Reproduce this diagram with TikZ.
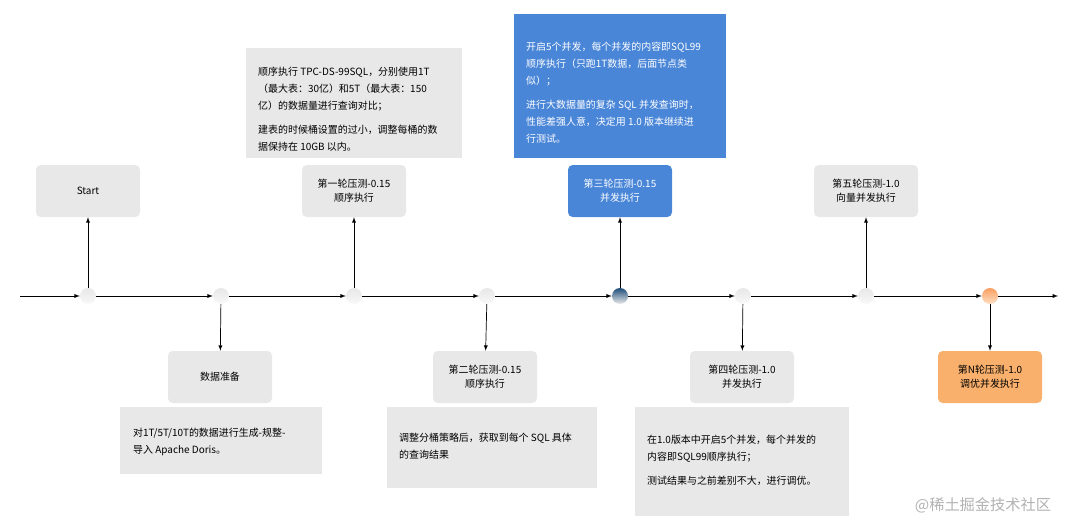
\documentclass[tikz,border=0pt]{standalone}
\usepackage{fontspec}
\setmainfont{Noto Sans CJK SC}
\definecolor{boxgray}{HTML}{E8E8E8}
\definecolor{boxblue}{HTML}{4A86D8}
\definecolor{boxorange}{HTML}{F9B06C}
\definecolor{dotblue}{HTML}{1F4E7A}
\begin{document}
\begin{tikzpicture}[x=0.03cm, y=-0.03cm,
    stage/.style={rounded corners=4pt, fill=boxgray, minimum width=104*0.03cm,
      minimum height=52*0.03cm, align=center, font=\fontsize{8.5}{12}\selectfont},
    info/.style={anchor=north west, align=left, inner sep=0pt,
      font=\fontsize{8.5}{14.5}\selectfont},
    dot/.style={circle, minimum size=16*0.03cm, inner sep=0pt},
    >=latex]
  \useasboundingbox (0,0) rectangle (1080,531);
  % timeline dots
  \foreach \x/\n in {88/d0,221/d1,354/d2,487/d3,743/d5,866/d6}
    \node [dot, top color=gray!18, bottom color=gray!5] (\n) at (\x,296) {};
  \node [dot, top color=dotblue, bottom color=white!85!gray] (d4) at (620,296) {};
  \node [dot, top color=boxorange!90!red, bottom color=boxorange!40] (d7) at (990,296) {};
  \coordinate (s) at (20,296);
  \coordinate (e) at (1058,296);
  \begin{scope}[->, semithick]
    \draw (s) -- (d0); \draw (d0) -- (d1); \draw (d1) -- (d2); \draw (d2) -- (d3);
    \draw (d3) -- (d4); \draw (d4) -- (d5); \draw (d5) -- (d6); \draw (d6) -- (d7);
    \draw (d7) -- (e);
  \end{scope}
  % info panels
  \fill [boxgray] (246,48) rectangle (462,158);
  \node [info] (i1) at (258,67) {顺序执行 TPC-DS-99SQL，分别使用1T\\（最大表：30亿）和5T（最大表：150\\亿）的数据量进行查询对比；\\[6pt]建表的时候桶设置的过小，调整每桶的数\\据保持在 10GB 以内。};
  \fill [boxblue] (514,14) rectangle (726,158);
  \node [info, text=white] (i3) at (526,42) {开启5个并发，每个并发的内容即SQL99\\顺序执行（只跑1T数据，后面节点类\\似）；\\[6pt]进行大数据量的复杂 SQL 并发查询时，\\性能差强人意，决定用 1.0 版本继续进\\行测试。};
  \fill [boxgray] (120,407) rectangle (322,474);
  \node [info] (i0) at (133,428) {对1T/5T/10T的数据进行生成-规整-\\导入 Apache Doris。};
  \fill [boxgray] (387,407) rectangle (597,488);
  \node [info] (i2) at (399,433) {调整分桶策略后，获取到每个 SQL 具体\\的查询结果};
  \fill [boxgray] (635,407) rectangle (849,516);
  \node [info] (i4) at (647,435) {在1.0版本中开启5个并发，每个并发的\\内容即SQL99顺序执行；\\[6pt]测试结果与之前差别不大，进行调优。};
  % stage boxes
  \node [stage] (start) at (88,191) {Start};
  \node [stage] (r1) at (354,191) {第一轮压测-0.15\\顺序执行};
  \node [stage, fill=boxblue, text=white] (r3) at (620,191) {第三轮压测-0.15\\并发执行};
  \node [stage] (r5) at (866,191) {第五轮压测-1.0\\向量并发执行};
  \node [stage] (prep) at (220,377) {数据准备};
  \node [stage] (r2) at (485,377) {第二轮压测-0.15\\顺序执行};
  \node [stage] (r4) at (742,377) {第四轮压测-1.0\\并发执行};
  \node [stage, fill=boxorange] (rn) at (990,377) {第N轮压测-1.0\\调优并发执行};
  \begin{scope}[->, semithick]
    \draw (d0) -- (start); \draw (d2) -- (r1); \draw (d4) -- (r3); \draw (d6) -- (r5);
    \draw (d1) -- (prep); \draw (d3) -- (r2); \draw (d5) -- (r4); \draw (d7) -- (rn);
  \end{scope}
  \node [text=gray!60, font=\fontsize{13}{15}\selectfont] (wm) at (983,505) {@稀土掘金技术社区};
\end{tikzpicture}
\end{document}
